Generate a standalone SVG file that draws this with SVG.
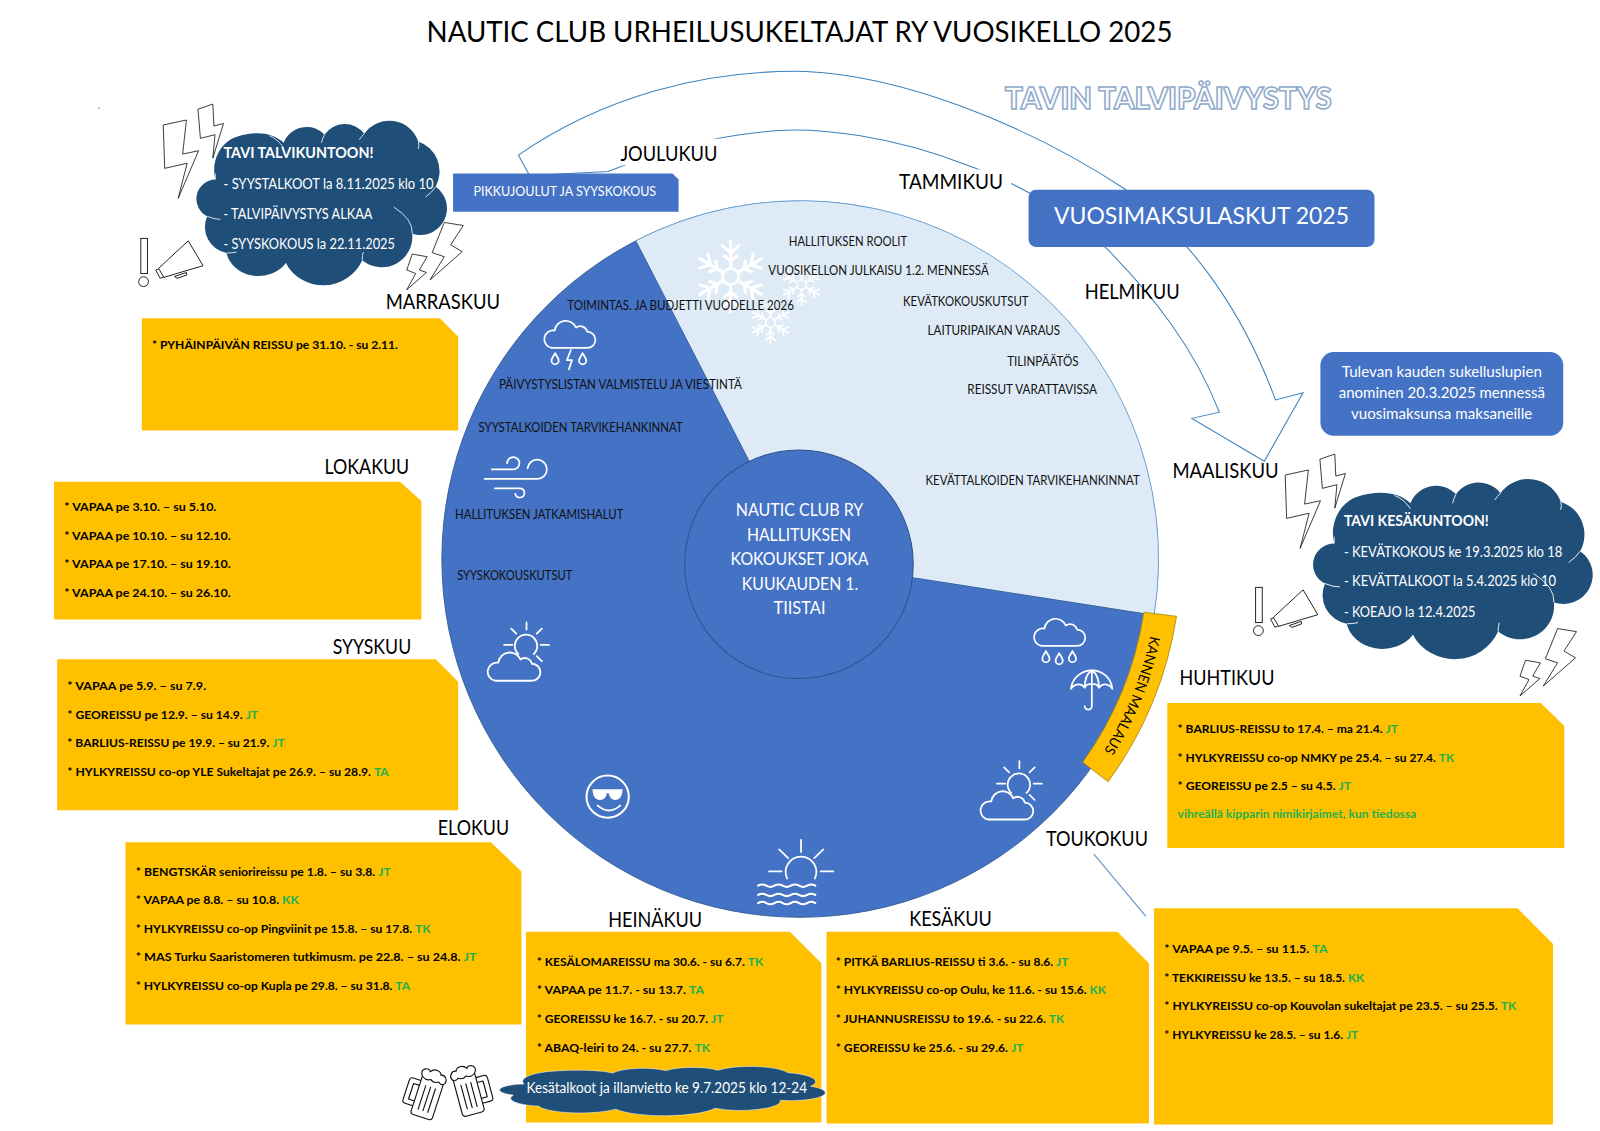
<svg xmlns="http://www.w3.org/2000/svg" xmlns:xlink="http://www.w3.org/1999/xlink" width="1600" height="1131" viewBox="0 0 1600 1131">
<style>
text{font-family:"Lato","Carlito","Liberation Sans",sans-serif}
.card{fill:#FFC000}
.c{font-size:11.8px;font-weight:700;fill:#000}
.g{fill:#22B14C}
.m{font-size:20px;fill:#000}
.w{font-size:12.2px;fill:#111}
.cl{font-size:14.2px;fill:#fff}
.ic{fill:none;stroke:#fff;stroke-width:1.7;stroke-linecap:round;stroke-linejoin:round}
.bolt{fill:#fff;stroke:#111;stroke-width:.8;stroke-linejoin:miter}
.n{fill:none;stroke:#fff;stroke-width:.8}
</style>
<defs>
<path id="cloud" fill="#1F4E79" d="M211,176C207,160 214,140 232,134C250,128 268,130 278,140A24 24 0 0 1 318,132A24 24 0 0 1 357,131A30 30 0 0 1 410,139A28 30 0 0 1 427,183A26 26 0 0 1 404,229A30 30 0 0 1 355,255A42 42 0 0 1 280,258A32 28 0 0 1 222,248A26 26 0 0 1 203,212A19 19 0 0 1 211,176Z"/>
<path id="cn" class="n" d="M264,133Q272,136 278,145M318,132Q316,136 315,140M357,131Q354,134 352,137M410,139Q411,142 410,146M211,176V170M203,212Q210,215 216,215M386,203Q405,215 404,229M355,255Q355,250 356,247M280,258Q282,264 286,268M222,248Q228,248 232,247M427,183Q423,189 417,193"/>
<path id="scloud" class="ic" d="M9,28L44,28A8,8 0 0 0 44,12A7 7 0 0 0 33,8A11 11 0 0 0 12,11A8.5 8.5 0 0 0 9,28Z"/>
<g id="suncl" class="ic"><path d="M-8,9A11 11 0 1 1 7,9M0,-22V-15M-15,-16L-10,-11M15,-16L10,-11M-22,0H-14M14,0H22M10,11L15,16"/><use href="#scloud" transform="translate(-40,6) scale(1.03,1.04)"/></g>
<g id="sp"><path d="M0,-9V-36M-9,-31L0,-23L9,-31M-7,-21L0,-15L7,-21" fill="none" stroke="#fff" stroke-width="3"/></g>
<g id="flake"><circle r="8" fill="none" stroke="#fff" stroke-width="2.6"/><use href="#sp"/><use href="#sp" transform="rotate(60)"/><use href="#sp" transform="rotate(120)"/><use href="#sp" transform="rotate(180)"/><use href="#sp" transform="rotate(240)"/><use href="#sp" transform="rotate(300)"/></g>
<g id="drop"><path class="ic" d="M0,-6C-2,-2 -3.5,-1 -3.5,1.5A3.5,3.5 0 0 0 3.5,1.5C3.5,-1 2,-2 0,-6Z"/></g>
<g id="mega" fill="#fff" stroke="#111" stroke-width=".9"><path d="M171,271L182.7,267L183,269.5L173.6,272.8Z"/><path d="M152.6,264.6L157,263L161.4,271L157,272.8Z"/><path d="M184.5,236L199,260.4L160.6,271.8L155.4,263Z"/><rect x="138" y="233.6" width="6.5" height="34.5"/><circle cx="140.7" cy="276" r="4.8"/></g>
<g id="boltsA" class="bolt"><path d="M160,122.5L182.7,117.6L179,151L194.6,147.7L174.6,194.4L183.4,160L161.4,165Z"/><path d="M194,107L208.6,102L209.6,123.5L219,121L208.6,155L210.7,132L196.4,135.6Z"/></g>
<g id="boltsB" class="bolt"><path d="M435.4,218L454,221L441.7,240L453,246.6L421.4,274.4L435.4,251.6L423.5,247.6Z"/><path d="M404,249L418.6,251.6L411,264.6L418,267L398.6,284L407.4,268L398.6,264.6Z"/></g>
<g id="mug" fill="#fff" stroke="#111" stroke-width="1.1" stroke-linejoin="round"><path d="M-11,-13H-19Q-22,-13 -22,-10V10Q-22,13 -19,13H-11M-11,-8H-17V8H-11"/><rect x="-11" y="-21" width="22" height="42" rx="3"/><path d="M-12,-19C-15,-25 -7,-28 -5,-24C-2,-29 5,-28 6,-24C10,-26 14,-21 12,-17C10,-14 7,-16 6,-17C3,-15 0,-15 -2,-17C-5,-15 -10,-15 -12,-19Z"/><path d="M-5,-10V15M0,-10V15M5,-10V15"/></g>
<path id="kmpath" d="M1127.3,623A351 351 0 0 1 1081.7,736"/>
</defs>
<rect width="1600" height="1131" fill="#fff"/>
<g transform="scale(1.020408)">
<text id="title" x="418" y="41" font-size="27.6" textLength="731" lengthAdjust="spacingAndGlyphs">NAUTIC CLUB URHEILUSUKELTAJAT RY VUOSIKELLO 2025</text>
<text id="tavin" x="985" y="107" font-size="29" font-weight="900" fill="#FBFCFE" stroke="#8FA9C9" stroke-width="1.5" textLength="320" lengthAdjust="spacingAndGlyphs">TAVIN TALVIPÄIVYSTYS</text>
<circle cx="97" cy="106" r=".6" fill="#333"/>

<g id="connectors">
<path d="M519,172L508,152C590,95 690,68 790,70C880,74 1000,118 1102,185C1170,235 1220,310 1250,392L1277,385L1239,452L1168,410L1195,404C1170,340 1130,290 1085,244C1040,205 1000,180 948,162C880,135 800,122 745,129.5C700,134 650,146 596,168Z" fill="#fff" stroke="#3B82BD" stroke-width="1"/>
<path d="M1072,837L1123,898" fill="none" stroke="#5B8DC8" stroke-width="1"/>
</g>

<g id="wheel">
<circle cx="784" cy="548" r="351" fill="#4472C4" stroke="#2F528F" stroke-width=".8"/>
<path d="M623,236A351 351 0 0 1 1131,603L784,549Z" fill="#DEEBF7" stroke="#5B9BD5" stroke-width=".8"/>
<path d="M623,236L784,549L1131,603" fill="none" stroke="#2F528F" stroke-width=".8"/>
<use href="#flake" transform="translate(716,271)"/>
<use href="#flake" transform="translate(785.5,279) scale(.58)"/>
<use href="#flake" transform="translate(755,316) scale(.58)"/>
<g id="icon-storm"><use href="#scloud" transform="translate(531.5,313)"/><use href="#drop" transform="translate(544,352)"/><use href="#drop" transform="translate(571,352)"/><path class="ic" d="M559.5,343L555.5,353H560.5L557.5,362"/></g>
<g id="icon-wind"><path class="ic" d="M482,460H503A6 6 0 1 0 497,454M475,469.4H527A9.5 9.5 0 1 0 517,459M485,478.6H510A4.5 4.5 0 1 1 505,484"/></g>
<use href="#suncl" transform="translate(516,632)"/>
<use href="#suncl" transform="translate(999,768)"/>
<g id="icon-rain"><use href="#scloud" transform="translate(1011.5,605)"/><use href="#drop" transform="translate(1025,644)"/><use href="#drop" transform="translate(1038,646)"/><use href="#drop" transform="translate(1051,644)"/></g>
<g id="icon-umbrella"><path class="ic" d="M1049.5,675C1051,664 1060,657 1070,657C1080,657 1089,664 1090,675C1087,670 1080,669 1077,674C1075,669 1065,669 1063,674C1060,669 1053,670 1049.5,675ZM1070,657C1065,660 1063,667 1063,674M1070,657C1075,660 1077,667 1077,674M1070,657V692A3.5 3.5 0 0 1 1063,692"/></g>
<g id="icon-smiley"><circle cx="595.5" cy="780.7" r="20.7" fill="none" stroke="#fff" stroke-width="2"/><path d="M580.5,773.5H610.2L609.8,777Q608.5,784 603,784Q597.5,784 596.6,777.5H594.6Q594,784 588,784Q582,784 581,777Z" fill="#fff"/><path d="M585.8,789.5Q596.8,799 607.8,789.5" fill="none" stroke="#fff" stroke-width="1.9" stroke-linecap="round"/></g>
<g id="icon-sunset"><path class="ic" d="M771.5,861A15 15 0 1 1 798.5,861M785,823V835M763.5,832.5L772.4,841M806.9,832.5L798,841M753.7,854H766M804.3,854H816.7"/><path class="ic" style="stroke-width:2" d="M743,868Q747,865.6 751,868T759,868T767,868T775,868T783,868T791,868T799,868M743,877Q747,874.6 751,877T759,877T767,877T775,877T783,877T791,877T799,877M743,885Q747,882.6 751,885T759,885T767,885T775,885T783,885T791,885T799,885"/></g>
<g id="wheel-labels">
<text class="w" x="773" y="241.5" textLength="116" lengthAdjust="spacingAndGlyphs">HALLITUKSEN ROOLIT</text>
<text class="w" x="753" y="269.5" textLength="216" lengthAdjust="spacingAndGlyphs">VUOSIKELLON JULKAISU 1.2. MENNESSÄ</text>
<text class="w" x="885" y="299.5" textLength="123" lengthAdjust="spacingAndGlyphs">KEVÄTKOKOUSKUTSUT</text>
<text class="w" x="909" y="328" textLength="130" lengthAdjust="spacingAndGlyphs">LAITURIPAIKAN VARAUS</text>
<text class="w" x="987" y="358.5" textLength="70" lengthAdjust="spacingAndGlyphs">TILINPÄÄTÖS</text>
<text class="w" x="948" y="386.5" textLength="127" lengthAdjust="spacingAndGlyphs">REISSUT VARATTAVISSA</text>
<text class="w" x="907" y="475.5" textLength="210" lengthAdjust="spacingAndGlyphs">KEVÄTTALKOIDEN TARVIKEHANKINNAT</text>
<text class="w" x="556" y="303.5" textLength="222" lengthAdjust="spacingAndGlyphs">TOIMINTAS. JA BUDJETTI VUODELLE 2026</text>
<text class="w" x="489" y="381.5" textLength="238" lengthAdjust="spacingAndGlyphs">PÄIVYSTYSLISTAN VALMISTELU JA VIESTINTÄ</text>
<text class="w" x="469" y="423" textLength="200" lengthAdjust="spacingAndGlyphs">SYYSTALKOIDEN TARVIKEHANKINNAT</text>
<text class="w" x="446" y="508.5" textLength="165" lengthAdjust="spacingAndGlyphs">HALLITUKSEN JATKAMISHALUT</text>
<text class="w" x="448" y="568" textLength="113" lengthAdjust="spacingAndGlyphs">SYYSKOKOUSKUTSUT</text>
</g>
</g>

<g id="hub">
<circle cx="783" cy="553" r="112" fill="#4472C4" stroke="#2F528F" stroke-width="1"/>
<g font-size="17" text-anchor="middle">
<text x="783.5" y="505.7" textLength="125" lengthAdjust="spacingAndGlyphs" fill="#fff">NAUTIC CLUB RY</text>
<text x="783" y="530" textLength="102" lengthAdjust="spacingAndGlyphs" fill="#fff">HALLITUKSEN</text>
<text x="783.5" y="553.7" textLength="135" lengthAdjust="spacingAndGlyphs" fill="#fff">KOKOUKSET JOKA</text>
<text x="784" y="578" textLength="114" lengthAdjust="spacingAndGlyphs" fill="#fff">KUUKAUDEN 1.</text>
<text x="783.5" y="601.8" textLength="51" lengthAdjust="spacingAndGlyphs" fill="#fff">TIISTAI</text>
</g>
</g>

<g id="kannen-maalaus">
<path d="M1121,600L1153,604A374 374 0 0 1 1086,766L1061,747A340 340 0 0 0 1121,600Z" fill="#FFC000" stroke="#A5830F" stroke-width=".8"/>
<text font-size="14" fill="#000"><textPath href="#kmpath" textLength="122" lengthAdjust="spacingAndGlyphs">KANNEN MAALAUS</textPath></text>
</g>

<g id="months">
<rect x="602" y="136" width="109" height="26" fill="#fff"/>
<rect x="875" y="166" width="116" height="26" fill="#fff"/>
<text class="m" id="m-joulu" x="608" y="157.5" textLength="95" lengthAdjust="spacingAndGlyphs">JOULUKUU</text>
<text class="m" id="m-tammi" x="881" y="185.5" textLength="102" lengthAdjust="spacingAndGlyphs">TAMMIKUU</text>
<text class="m" id="m-helmi" x="1063" y="293.5" textLength="93" lengthAdjust="spacingAndGlyphs">HELMIKUU</text>
<text class="m" id="m-maalis" x="1149" y="468.5" textLength="104" lengthAdjust="spacingAndGlyphs">MAALISKUU</text>
<text class="m" id="m-huhti" x="1156" y="671.5" textLength="93" lengthAdjust="spacingAndGlyphs">HUHTIKUU</text>
<text class="m" id="m-touko" x="1025" y="829" textLength="100" lengthAdjust="spacingAndGlyphs">TOUKOKUU</text>
<text class="m" id="m-kesa" x="891" y="907" textLength="81" lengthAdjust="spacingAndGlyphs">KESÄKUU</text>
<text class="m" id="m-heina" x="596" y="908" textLength="92" lengthAdjust="spacingAndGlyphs">HEINÄKUU</text>
<text class="m" id="m-elo" x="429" y="818.5" textLength="70" lengthAdjust="spacingAndGlyphs">ELOKUU</text>
<text class="m" id="m-syys" x="326" y="640.5" textLength="77" lengthAdjust="spacingAndGlyphs">SYYSKUU</text>
<text class="m" id="m-loka" x="318" y="464.5" textLength="83" lengthAdjust="spacingAndGlyphs">LOKAKUU</text>
<text class="m" id="m-marras" x="378" y="302.5" textLength="112" lengthAdjust="spacingAndGlyphs">MARRASKUU</text>
</g>

<g id="pikkujoulut">
<path d="M444,170H659L665,176V207.5H444Z" fill="#4472C4"/>
<text x="464" y="192" font-size="13" fill="#fff" textLength="179" lengthAdjust="spacingAndGlyphs">PIKKUJOULUT JA SYYSKOKOUS</text>
</g>
<g id="vuosimaksu">
<rect x="1008" y="186" width="339" height="56" rx="7" fill="#4472C4"/>
<text x="1033" y="219.5" font-size="23.4" fill="#fff" textLength="289" lengthAdjust="spacingAndGlyphs">VUOSIMAKSULASKUT 2025</text>
</g>
<g id="sukelluslupa">
<rect x="1294" y="345" width="238" height="82" rx="13" fill="#4472C4"/>
<text x="1315" y="369" font-size="14.4" fill="#fff" textLength="196" lengthAdjust="spacingAndGlyphs">Tulevan kauden sukelluslupien</text>
<text x="1312" y="389.8" font-size="14.4" fill="#fff" textLength="202" lengthAdjust="spacingAndGlyphs">anominen 20.3.2025 mennessä</text>
<text x="1324" y="410.5" font-size="14.4" fill="#fff" textLength="177.6" lengthAdjust="spacingAndGlyphs">vuosimaksunsa maksaneille</text>
</g>

<g id="cloud-talvi">
<use href="#boltsA"/><use href="#boltsB"/><use href="#mega"/>
<use href="#cloud"/><use href="#cn"/>
<text class="cl" font-weight="700" x="219" y="155" textLength="147" lengthAdjust="spacingAndGlyphs">TAVI TALVIKUNTOON!</text>
<text class="cl" x="219" y="185.5" textLength="206" lengthAdjust="spacingAndGlyphs">- SYYSTALKOOT la 8.11.2025 klo 10</text>
<text class="cl" x="219" y="215" textLength="146" lengthAdjust="spacingAndGlyphs">- TALVIPÄIVYSTYS ALKAA</text>
<text class="cl" x="219" y="244.5" textLength="168" lengthAdjust="spacingAndGlyphs">- SYYSKOKOUS la 22.11.2025</text>
</g>
<g id="cloud-kesa">
<use href="#boltsA" transform="translate(1099.5,343)"/><use href="#boltsB" transform="translate(1091,398)"/><use href="#mega" transform="translate(1092.5,342)"/>
<g transform="translate(1072,340) scale(1.116,1.094)"><use href="#cloud"/><use href="#cn"/></g>
<text class="cl" font-weight="700" x="1317" y="515.5" textLength="142" lengthAdjust="spacingAndGlyphs">TAVI KESÄKUNTOON!</text>
<text class="cl" x="1317" y="545.5" textLength="214" lengthAdjust="spacingAndGlyphs">- KEVÄTKOKOUS ke 19.3.2025 klo 18</text>
<text class="cl" x="1317" y="574.5" textLength="208" lengthAdjust="spacingAndGlyphs">- KEVÄTTALKOOT la 5.4.2025 klo 10</text>
<text class="cl" x="1317" y="604.5" textLength="129" lengthAdjust="spacingAndGlyphs">- KOEAJO la 12.4.2025</text>
</g>

<g id="card-marraskuu">
<path class="card" d="M139,312H431L449,330V422H139Z"/>
<text class="c" x="149" y="342" textLength="241" lengthAdjust="spacingAndGlyphs">* PYHÄINPÄIVÄN REISSU pe 31.10. - su 2.11.</text>
</g>
<g id="card-lokakuu">
<path class="card" d="M53,472H392L413,491V607H53Z"/>
<text class="c" x="63" y="501" textLength="149" lengthAdjust="spacingAndGlyphs">* VAPAA pe 3.10. – su 5.10.</text>
<text class="c" x="63" y="529" textLength="163" lengthAdjust="spacingAndGlyphs">* VAPAA pe 10.10. – su 12.10.</text>
<text class="c" x="63" y="557" textLength="163" lengthAdjust="spacingAndGlyphs">* VAPAA pe 17.10. – su 19.10.</text>
<text class="c" x="63" y="585" textLength="163" lengthAdjust="spacingAndGlyphs">* VAPAA pe 24.10. – su 26.10.</text>
</g>
<g id="card-syyskuu">
<path class="card" d="M56,646H427L449,668V794H56Z"/>
<text class="c" x="66" y="676.5" textLength="136" lengthAdjust="spacingAndGlyphs">* VAPAA pe 5.9. – su 7.9.</text>
<text class="c" x="66" y="704.5" textLength="187" lengthAdjust="spacingAndGlyphs">* GEOREISSU pe 12.9. – su 14.9. <tspan class="g">JT</tspan></text>
<text class="c" x="66" y="732.5" textLength="213" lengthAdjust="spacingAndGlyphs">* BARLIUS-REISSU pe 19.9. – su 21.9. <tspan class="g">JT</tspan></text>
<text class="c" x="66" y="760.5" textLength="315" lengthAdjust="spacingAndGlyphs">* HYLKYREISSU co-op YLE Sukeltajat pe 26.9. – su 28.9. <tspan class="g">TA</tspan></text>
</g>
<g id="card-elokuu">
<path class="card" d="M123,825.5H481L511,854V1004H123Z"/>
<text class="c" x="133" y="858" textLength="250" lengthAdjust="spacingAndGlyphs">* BENGTSKÄR seniorireissu pe 1.8. – su 3.8. <tspan class="g">JT</tspan></text>
<text class="c" x="133" y="886" textLength="160" lengthAdjust="spacingAndGlyphs">* VAPAA pe 8.8. – su 10.8. <tspan class="g">KK</tspan></text>
<text class="c" x="133" y="914" textLength="289" lengthAdjust="spacingAndGlyphs">* HYLKYREISSU co-op Pingviinit pe 15.8. – su 17.8. <tspan class="g">TK</tspan></text>
<text class="c" x="133" y="942" textLength="334" lengthAdjust="spacingAndGlyphs">* MAS Turku Saaristomeren tutkimusm. pe 22.8. – su 24.8. <tspan class="g">JT</tspan></text>
<text class="c" x="133" y="970" textLength="269" lengthAdjust="spacingAndGlyphs">* HYLKYREISSU co-op Kupla pe 29.8. – su 31.8. <tspan class="g">TA</tspan></text>
</g>
<g id="card-heinakuu">
<path class="card" d="M515.5,913H774L805,944V1100H515.5Z"/>
<text class="c" x="526" y="946.5" textLength="222" lengthAdjust="spacingAndGlyphs">* KESÄLOMAREISSU ma 30.6. - su 6.7. <tspan class="g">TK</tspan></text>
<text class="c" x="526" y="974.5" textLength="164" lengthAdjust="spacingAndGlyphs">* VAPAA pe 11.7. - su 13.7. <tspan class="g">TA</tspan></text>
<text class="c" x="526" y="1002.5" textLength="183" lengthAdjust="spacingAndGlyphs">* GEOREISSU ke 16.7. - su 20.7. <tspan class="g">JT</tspan></text>
<text class="c" x="526" y="1030.5" textLength="170" lengthAdjust="spacingAndGlyphs">* ABAQ-leiri to 24. - su 27.7. <tspan class="g">TK</tspan></text>
</g>
<g id="card-kesakuu">
<path class="card" d="M810,913H1095L1126,944V1101H810Z"/>
<text class="c" x="819" y="946.5" textLength="228" lengthAdjust="spacingAndGlyphs">* PITKÄ BARLIUS-REISSU ti 3.6. - su 8.6. <tspan class="g">JT</tspan></text>
<text class="c" x="819" y="974.5" textLength="265" lengthAdjust="spacingAndGlyphs">* HYLKYREISSU co-op Oulu, ke 11.6. - su 15.6. <tspan class="g">KK</tspan></text>
<text class="c" x="819" y="1002.5" textLength="224" lengthAdjust="spacingAndGlyphs">* JUHANNUSREISSU to 19.6. - su 22.6. <tspan class="g">TK</tspan></text>
<text class="c" x="819" y="1030.5" textLength="184" lengthAdjust="spacingAndGlyphs">* GEOREISSU ke 25.6. - su 29.6. <tspan class="g">JT</tspan></text>
</g>
<g id="card-toukokuu">
<path class="card" d="M1131,890H1487L1522,925V1102H1131Z"/>
<text class="c" x="1141" y="934" textLength="160" lengthAdjust="spacingAndGlyphs">* VAPAA pe 9.5. – su 11.5. <tspan class="g">TA</tspan></text>
<text class="c" x="1141" y="962" textLength="196" lengthAdjust="spacingAndGlyphs">* TEKKIREISSU ke 13.5. – su 18.5. <tspan class="g">KK</tspan></text>
<text class="c" x="1141" y="990" textLength="345" lengthAdjust="spacingAndGlyphs">* HYLKYREISSU co-op Kouvolan sukeltajat pe 23.5. – su 25.5. <tspan class="g">TK</tspan></text>
<text class="c" x="1141" y="1018" textLength="190" lengthAdjust="spacingAndGlyphs">* HYLKYREISSU ke 28.5. – su 1.6. <tspan class="g">JT</tspan></text>
</g>
<g id="card-huhtikuu">
<path class="card" d="M1144,689H1510L1533,711.5V831H1144Z"/>
<text class="c" x="1154" y="718.5" textLength="216" lengthAdjust="spacingAndGlyphs">* BARLIUS-REISSU to 17.4. – ma 21.4. <tspan class="g">JT</tspan></text>
<text class="c" x="1154" y="746.5" textLength="271" lengthAdjust="spacingAndGlyphs">* HYLKYREISSU co-op NMKY pe 25.4. – su 27.4. <tspan class="g">TK</tspan></text>
<text class="c" x="1154" y="774.5" textLength="170" lengthAdjust="spacingAndGlyphs">* GEOREISSU pe 2.5 – su 4.5. <tspan class="g">JT</tspan></text>
<text class="c g" x="1154" y="802" textLength="234" lengthAdjust="spacingAndGlyphs" style="fill:#22B14C">vihreällä kipparin nimikirjaimet, kun tiedossa</text>
</g>

<g id="kesatalkoot">
<use href="#mug" transform="translate(419,1074.7) rotate(18)"/>
<use href="#mug" transform="translate(459,1071.5) scale(-1,1) rotate(15)"/>
<g transform="translate(239.3,1009.6) scale(1.3,.3)"><use href="#cloud" stroke="#fff" stroke-width=".6"/></g>
<text class="cl" x="516" y="1071" font-size="13" textLength="275" lengthAdjust="spacingAndGlyphs">Kesätalkoot ja illanvietto ke 9.7.2025 klo 12-24</text>
</g>
</g>
</svg>
